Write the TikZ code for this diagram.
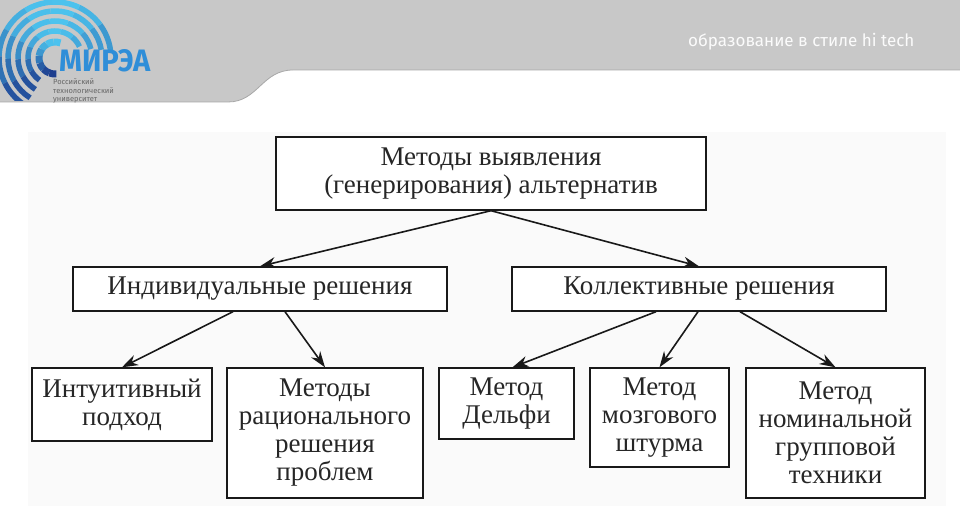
\documentclass[tikz,border=0pt]{standalone}
\usepackage{fontspec}
\setmainfont{Liberation Serif}
\newfontfamily\hdrfont{Fira Sans}
\usetikzlibrary{arrows.meta}

\definecolor{hdrgray}{HTML}{C8C8C8}
\definecolor{hdrline}{HTML}{A8A8A8}
\definecolor{logolight}{HTML}{4CC3EE}
\definecolor{logodark}{HTML}{1D3C8E}
\definecolor{logotext}{HTML}{2F8ED8}
\definecolor{panelgray}{HTML}{FAFAFA}

\tikzset{
  blk/.style={draw=black!90, line width=1.4pt, fill=white, align=center,
    inner sep=0pt, font=\fontsize{27}{28}\selectfont, text=black!85},
  arr/.style={-{Stealth[length=16pt,width=11pt]}, line width=1.6pt, draw=black!90}
}

\begin{document}
\begin{tikzpicture}[x=1pt,y=-1pt]
	\useasboundingbox (0,0) rectangle (960,518);
	\fill[white] (0,0) rectangle (960,518);

	% header band
	\fill[hdrgray] (0,0) -- (960,0) -- (960,70) -- (293,70)
        .. controls (262,70) and (258,102) .. (228,102) -- (0,102) -- cycle;
	\draw[hdrline, line width=0.8pt] (960,70) -- (293,70)
        .. controls (262,70) and (258,102) .. (228,102) -- (0,102);

	% logo arcs
	\begin{scope}
	\clip (0,0) rectangle (228,101);
	\foreach \rr/\sa/\ea/\lw in {16/70/275/7, 27/25/235/5.5, 37/14/238/5.5,
        47/10/238/5.5, 56/8/235/5.5} {
	  \foreach \k in {0,...,7} {
	    \pgfmathsetmacro\angA{\sa+\k*(\ea-\sa)/8}
	    \pgfmathsetmacro\angB{\sa+(\k+1)*(\ea-\sa)/8}
	    \pgfmathsetmacro\mixpct{50*(1-sin((\angA+\angB)/2))}
	    \draw[line width=\lw pt, draw=logodark!\mixpct!logolight] (55,58)
            ++(\angA:\rr pt) arc[start angle=\angA, end angle=\angB,
            radius=\rr pt];
	  }
	}
	\end{scope}
	\node[anchor=base west, inner sep=0pt, text=logotext,
        font=\hdrfont\bfseries\fontsize{31}{31}\selectfont] (brand) at (59,72)
        {\scalebox{0.94}[1]{МИРЭА}};
	\node[anchor=north west, inner sep=0pt, align=left, text=black!60,
        font=\hdrfont\fontsize{7.5}{8.5}\selectfont] (uni) at (53,79)
        {Российский\\технологический\\университет};
	\node[anchor=base west, inner sep=0pt, text=white!92!hdrgray,
        font=\hdrfont\fontsize{17}{17}\selectfont] (motto) at (688,47)
        {образование в стиле hi tech};

	% diagram
	\fill[panelgray] (28,132) rectangle (946,506);

	\node[blk, minimum width=430pt, minimum height=73pt] (top) at (491,173.5)
        {Методы выявления\\(генерирования) альтернатив};
	\node[blk, minimum width=374pt, minimum height=44pt] (ind) at (260,289)
        {Индивидуальные решения};
	\node[blk, minimum width=374pt, minimum height=44pt] (col) at (699,289)
        {Коллективные решения};

	\node[blk, minimum width=180pt, minimum height=73pt] (intu) at (122,404.5)
        {Интуитивный\\подход};
	\node[blk, minimum width=196pt, minimum height=130pt] (rat) at (325,433)
        {Методы\\рационального\\решения\\проблем};
	\node[blk, minimum width=135pt, minimum height=71pt] (del) at (506.5,403.5)
        {Метод\\Дельфи};
	\node[blk, minimum width=139pt, minimum height=99pt] (brain) at (659.5,417.5)
        {Метод\\мозгового\\штурма};
	\node[blk, minimum width=179pt, minimum height=130pt] (nom) at (835.5,433)
        {Метод\\номинальной\\групповой\\техники};

	\draw[arr] (top.south) -- (ind.north);
	\draw[arr] (top.south) -- (col.north);
	\draw[arr] ([xshift=-27pt]ind.south) -- (intu.north);
	\draw[arr] ([xshift=25pt]ind.south) -- (rat.north);
	\draw[arr] ([xshift=-43pt]col.south) -- ([xshift=6pt]del.north);
	\draw[arr] ([xshift=-1pt]col.south) -- (brain.north);
	\draw[arr] ([xshift=41pt]col.south) -- (nom.north);
\end{tikzpicture}
\end{document}
